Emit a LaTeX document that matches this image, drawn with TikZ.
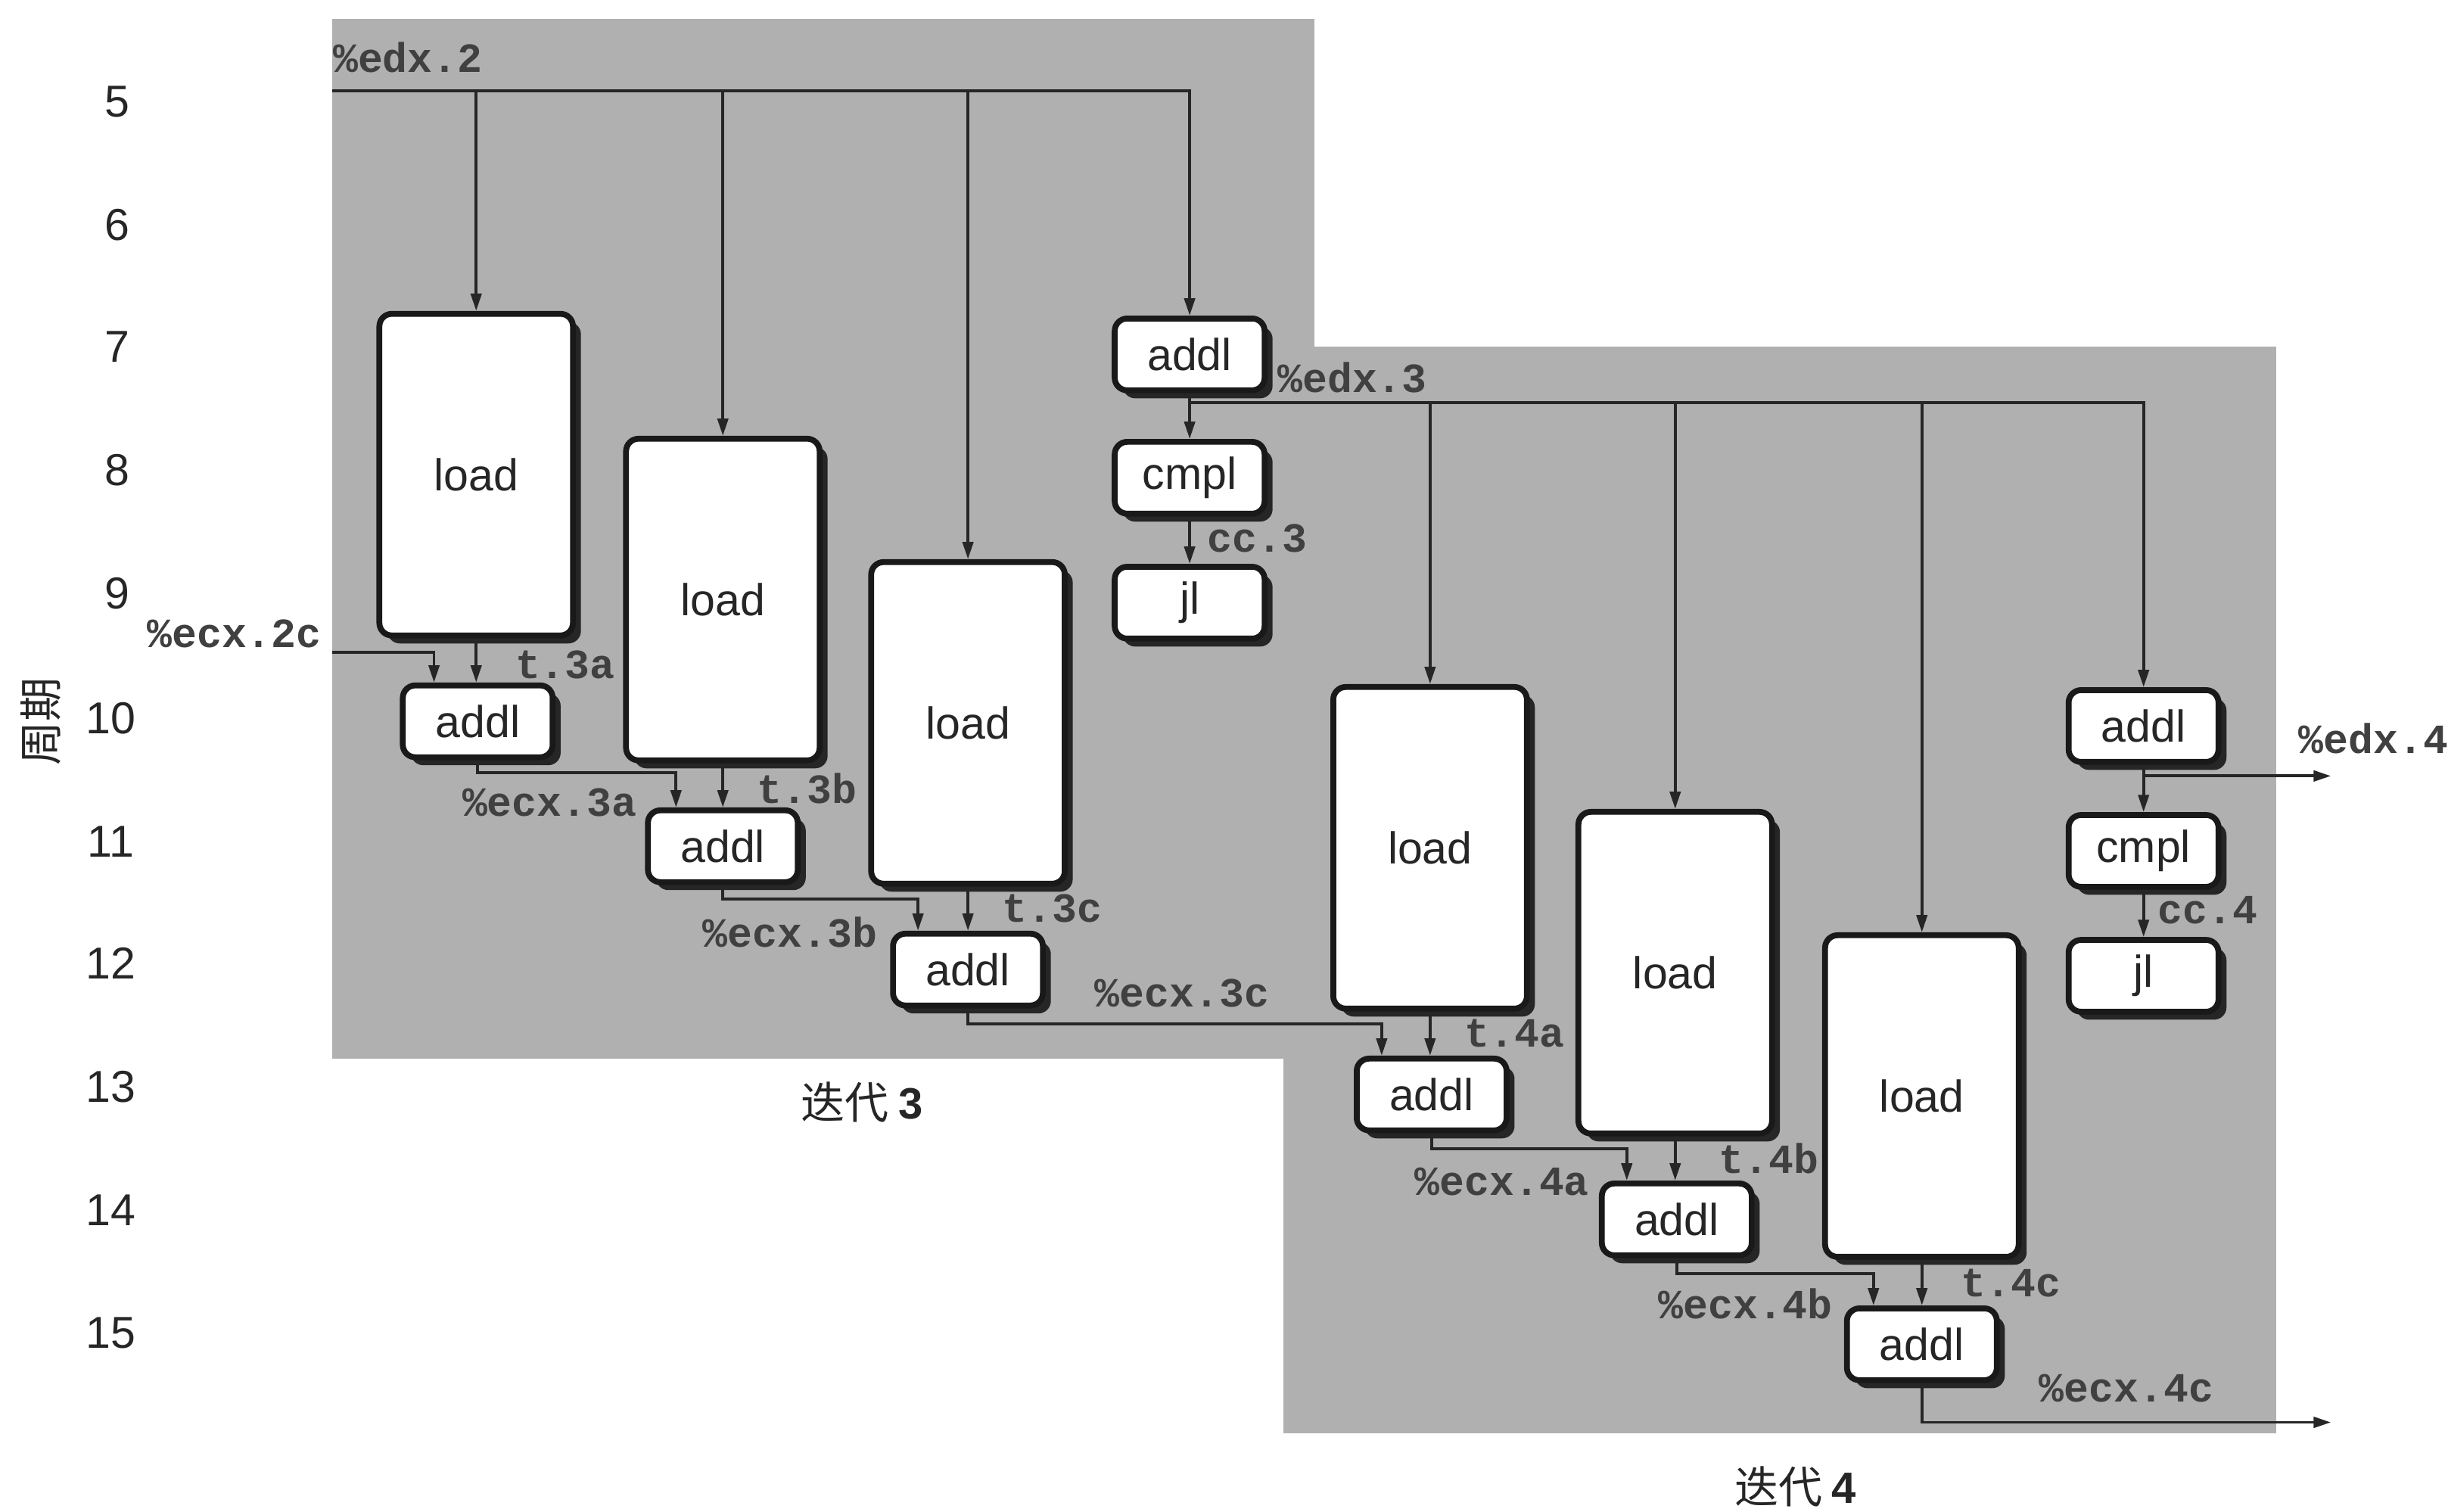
\documentclass[tikz,border=0pt]{standalone}
\usepackage{fontspec}
\setmainfont{Liberation Sans}
\newfontfamily\monof{Liberation Mono}
\newfontfamily\cjk{Noto Sans CJK SC}
\usetikzlibrary{arrows.meta,shadows,calc}
\def\U{0.02063cm}
\definecolor{bgG}{RGB}{176,176,176}
\tikzset{
  box/.style={draw=black!90, line width=2.2pt, rounded corners=8*\U, fill=white, inner sep=0pt,
    text=black!85, font=\fontsize{16.8}{18}\selectfont,
    drop shadow={shadow xshift=3pt, shadow yshift=-3pt, fill=black!85, opacity=1}},
  bigbox/.style={box, minimum width=124*\U, minimum height=206*\U},
  smallbox/.style={box, minimum width=96*\U, minimum height=46*\U},
  conn/.style={line width=1.1pt, draw=black!85},
  arr/.style={conn, -{Triangle[length=6.5pt,width=4pt]}},
  lbl/.style={inner sep=0pt, text=black!75, font=\monof\bfseries\fontsize{15.6}{17}\selectfont},
  rownum/.style={inner sep=0pt, text=black!85, font=\fontsize{16.8}{18}\selectfont},
  itlbl/.style={inner sep=0pt, text=black!85, font=\cjk\fontsize{16.5}{18}\selectfont}
}
\begin{document}
\begin{tikzpicture}[x=\U, y=-\U]
\useasboundingbox (0,0) rectangle (1568,968);
% gray backgrounds
\fill[bgG] (213,12) rectangle (842,678);
\fill[bgG] (822,222) rectangle (1458,918);

% row numbers
\foreach \n/\yy in {5/65,6/144,7/222,8/301,9/380}
  \node[rownum] (r\n) at (75,\yy) {\n};
\foreach \n/\yy in {10/460,11/539,12/617,13/696,14/775,15/854}
  \node[rownum] (r\n) at (71,\yy) {\n};
\node[itlbl, rotate=90] (cyc) at (26,462) {周期};

% iteration 3 boxes
\node[bigbox] (L1) at (305,304) {load};
\node[bigbox] (L2) at (463,384) {load};
\node[bigbox] (L3) at (620,463) {load};
\node[smallbox] (A1) at (762,227) {addl};
\node[smallbox] (C1) at (762,306) {cmpl};
\node[smallbox] (J1) at (762,386) {jl};
\node[smallbox] (a3a) at (306,462) {addl};
\node[smallbox] (a3b) at (463,542) {addl};
\node[smallbox] (a3c) at (620,621) {addl};

% iteration 4 boxes
\node[bigbox] (L4a) at (916,543) {load};
\node[bigbox] (L4b) at (1073,623) {load};
\node[bigbox] (L4c) at (1231,702) {load};
\node[smallbox] (A2) at (1373,465) {addl};
\node[smallbox] (C2) at (1373,545) {cmpl};
\node[smallbox] (J2) at (1373,625) {jl};
\node[smallbox] (a4a) at (917,701) {addl};
\node[smallbox] (a4b) at (1074,781) {addl};
\node[smallbox] (a4c) at (1231,861) {addl};

% coordinates
\coordinate (edx2) at (213,58);
\coordinate (ecx2c) at (213,418);
\coordinate (e3) at (762,258);
\coordinate (out4) at (1493,497);
\coordinate (outc) at (1493,911);

% edx.2 distribution
\draw[arr] (edx2) -| (A1.north);
\foreach \b in {L1,L2,L3}
  \draw[arr] (\b.north |- edx2) -- (\b.north);

% edx.3 distribution
\draw[arr] (A1.south) -- (C1.north);
\draw[arr] (e3) -| (A2.north);
\foreach \b in {L4a,L4b,L4c}
  \draw[arr] (\b.north |- e3) -- (\b.north);
\draw[arr] (C1.south) -- (J1.north);

% iteration 4 edx / cc
\draw[arr] (A2.south) -- (C2.north);
\draw[arr] (A2.south |- out4) -- (out4);
\draw[arr] (C2.south) -- (J2.north);

% ecx chain
\draw[arr] (ecx2c) -| ([xshift=-28*\U]a3a.north);
\draw[arr] (L1.south) -- (L1.south |- a3a.north);
\draw[arr] (a3a.south) -- ++(0,8) -| ([xshift=-30*\U]a3b.north);
\draw[arr] (L2.south) -- (L2.south |- a3b.north);
\draw[arr] (a3b.south) -- ++(0,9) -| ([xshift=-32*\U]a3c.north);
\draw[arr] (L3.south) -- (L3.south |- a3c.north);
\draw[arr] (a3c.south) -- ++(0,10) -| ([xshift=-32*\U]a4a.north);
\draw[arr] (L4a.south) -- (L4a.south |- a4a.north);
\draw[arr] (a4a.south) -- ++(0,10) -| ([xshift=-32*\U]a4b.north);
\draw[arr] (L4b.south) -- (L4b.south |- a4b.north);
\draw[arr] (a4b.south) -- ++(0,10) -| ([xshift=-31*\U]a4c.north);
\draw[arr] (L4c.south) -- (L4c.south |- a4c.north);
\draw[arr] (a4c.south) |- (outc);

% labels
\node[lbl, anchor=west] (tedx2) at (213,37) {\%edx.2};
\node[lbl, anchor=west] (tedx3) at (818,242) {\%edx.3};
\node[lbl, anchor=west] (tcc3) at (773,345) {cc.3};
\node[lbl] (tecx2c) at (150,406) {\%ecx.2c};
\node[lbl] (tt3a) at (362,426) {t.3a};
\node[lbl] (tecx3a) at (352,514) {\%ecx.3a};
\node[lbl] (tt3b) at (517,505) {t.3b};
\node[lbl] (tecx3b) at (506,597) {\%ecx.3b};
\node[lbl] (tt3c) at (674,582) {t.3c};
\node[lbl] (tecx3c) at (757,636) {\%ecx.3c};
\node[lbl] (tt4a) at (970,662) {t.4a};
\node[lbl] (tecx4a) at (962,757) {\%ecx.4a};
\node[lbl] (tt4b) at (1133,742) {t.4b};
\node[lbl] (tecx4b) at (1118,835) {\%ecx.4b};
\node[lbl] (tt4c) at (1288,822) {t.4c};
\node[lbl] (tecx4c) at (1362,889) {\%ecx.4c};
\node[lbl, anchor=west] (tedx4) at (1472,473) {\%edx.4};
\node[lbl, anchor=west] (tcc4) at (1382,583) {cc.4};

\node[itlbl] (it3) at (552,706) {迭代 {\fontspec{Liberation Sans}\bfseries 3}};
\node[itlbl] (it4) at (1150,952) {迭代 {\fontspec{Liberation Sans}\bfseries 4}};
\end{tikzpicture}
\end{document}
